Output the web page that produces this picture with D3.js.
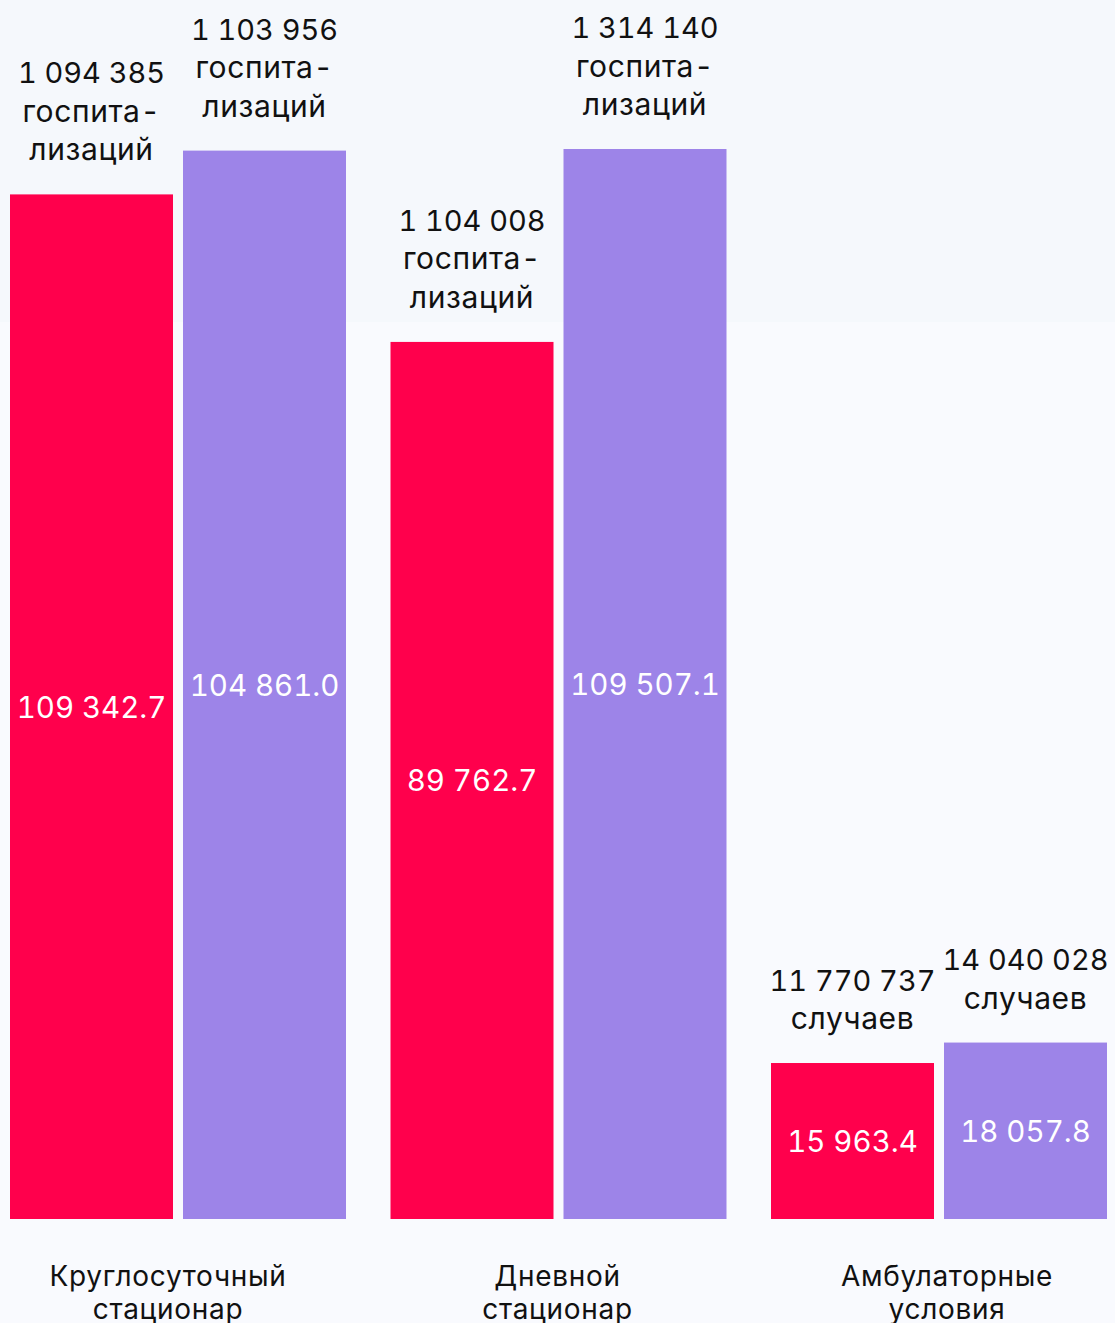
<!DOCTYPE html>
<html>
<head>
<meta charset="utf-8">
<script src="https://cdn.jsdelivr.net/npm/d3@7"></script>
<style>
  html, body { margin: 0; padding: 0; background: #f9fafe; }
  svg { display: block; font-family: Inter, "Noto Sans", sans-serif; font-variant-numeric: tabular-nums; }
</style>
</head>
<body>
<svg></svg>
<script>
// categories and series
const categories = ['Круглосуточный стационар', 'Дневной стационар', 'Амбулаторные условия'];
const categoryLines = [['Круглосуточный', 'стационар'], ['Дневной', 'стационар'], ['Амбулаторные', 'условия']];
const seriesKeys = ['first', 'second'];

// bar heights (first group is drawn with the two values swapped)
const firstValues = [104861.0, 89762.7, 15963.4];
const secondValues = [109342.7, 109507.1, 18057.8];

// labels printed inside the bars
const firstLabels = ['109 342.7', '89 762.7', '15 963.4'];
const secondLabels = ['104 861.0', '109 507.1', '18 057.8'];

// labels above the bars
const firstCounts = ['1 094 385', '1 104 008', '11 770 737'];
const secondCounts = ['1 103 956', '1 314 140', '14 040 028'];
const unitLines = [['госпита-', 'лизаций'], ['госпита-', 'лизаций'], ['случаев']];

const colors = { first: '#ff004c', second: '#9d84e8' };

const dimensions = {
    width: 1115,
    height: 1323,
    baseline: 1219,
    top: 149,
};

const svg = d3.select('svg').attr('width', dimensions.width).attr('height', dimensions.height);

// background bands
svg.append('rect').attr('width', dimensions.width).attr('height', dimensions.height).attr('fill', '#f9fafe');
svg.append('rect').attr('width', dimensions.width).attr('height', 322).attr('fill', '#f5f8fc');

const x0 = d3.scaleBand().domain(categories).range([10, 1107]).paddingInner(44.5 / 380.5).paddingOuter(0);
const x1 = d3.scaleBand().domain(seriesKeys).range([0, x0.bandwidth()]).paddingInner(10 / 173);
const y = d3.scaleLinear().domain([0, d3.max(secondValues)]).range([dimensions.baseline, dimensions.top]);
const xLabel = d3.scalePoint().domain(categories).range([168, 947]);

const rows = [];
categories.forEach((c, i) => {
    rows.push({ cat: c, key: 'first', value: firstValues[i], label: firstLabels[i], count: firstCounts[i], unit: unitLines[i] });
    rows.push({ cat: c, key: 'second', value: secondValues[i], label: secondLabels[i], count: secondCounts[i], unit: unitLines[i] });
});

const bar = svg.selectAll('g.bar').data(rows).join('g')
    .attr('class', 'bar')
    .attr('transform', d => `translate(${x0(d.cat) + x1(d.key)},0)`);

bar.append('rect')
    .attr('y', d => y(d.value))
    .attr('width', x1.bandwidth())
    .attr('height', d => y(0) - y(d.value))
    .attr('fill', d => colors[d.key]);

// value inside bar, centred vertically
bar.append('text')
    .attr('x', x1.bandwidth() / 2)
    .attr('y', d => (y(d.value) + y(0)) / 2 + 11)
    .attr('text-anchor', 'middle')
    .attr('fill', '#fff')
    .attr('font-size', 29.5)
    .text(d => d.label);

// count + unit above bar
const lineGap = 38.5;
bar.each(function (d) {
    const lines = [d.count].concat(d.unit);
    const lastBase = y(d.value) - 34;
    d3.select(this).selectAll('text.top').data(lines).join('text')
        .attr('class', 'top')
        .attr('x', x1.bandwidth() / 2)
        .attr('y', (t, j) => lastBase - (lines.length - 1 - j) * lineGap)
        .attr('text-anchor', 'middle')
        .attr('fill', '#111')
        .attr('font-size', (t, j) => j === 0 ? 29 : 30)
        .attr('letter-spacing', (t, j) => j === 0 ? 0 : 0.6)
        .text(t => t);
});

// category labels
categories.forEach((c, i) => {
    svg.append('text')
        .attr('x', xLabel(c))
        .attr('text-anchor', 'middle')
        .attr('fill', '#111')
        .attr('font-size', 28)
        .attr('letter-spacing', 0.7)
        .selectAll('tspan').data(categoryLines[i]).join('tspan')
        .attr('x', xLabel(c))
        .attr('y', (t, j) => 1286 + j * 33)
        .text(t => t);
});
</script>
</body>
</html>
